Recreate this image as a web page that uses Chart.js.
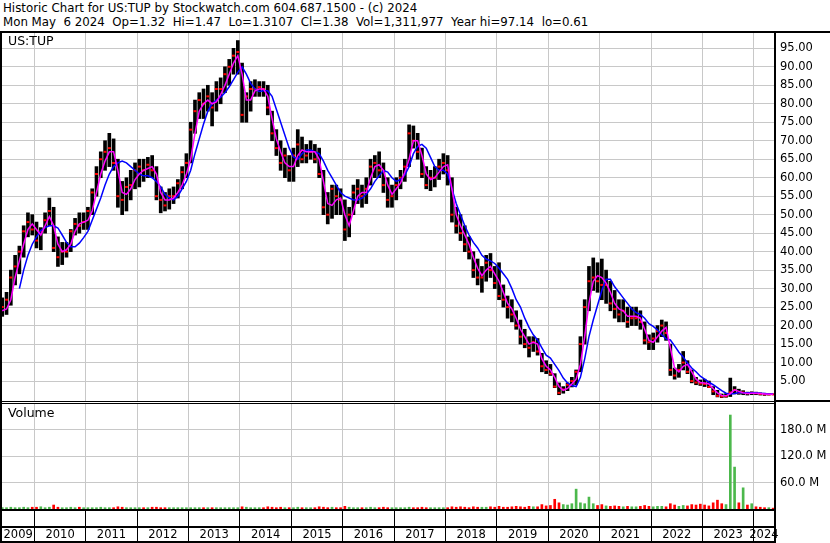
<!DOCTYPE html>
<html>
<head>
<meta charset="utf-8">
<script src="https://cdn.jsdelivr.net/npm/chart.js@4/dist/chart.umd.min.js"></script>
<style>
  html, body { margin: 0; padding: 0; background: #fff; }
  body { width: 830px; height: 543px; position: relative; overflow: hidden;
         font-family: 'DejaVu Sans', Verdana, sans-serif; color: #000; }
  .txt { position: absolute; white-space: pre; color: #000; }
  .hdr { font-size: 11.8px; line-height: 13.5px; }
  .lbl { font-size: 12.5px; line-height: 14px; z-index: 6; }
  .ln { position: absolute; background: #000; z-index: 5; }
  canvas { position: absolute; left: 0; }
</style>
</head>
<body>
<div class="txt hdr" style="left:3px;top:2px">Historic Chart for US:TUP by Stockwatch.com 604.687.1500 - (c) 2024</div>
<div class="txt hdr" style="left:3px;top:16px">Mon May  6 2024  Op=1.32  Hi=1.47  Lo=1.3107  Cl=1.38  Vol=1,311,977  Year hi=97.14  lo=0.61</div>

<canvas id="price" width="830" height="368" style="top:33px"></canvas>
<canvas id="vol" width="830" height="139" style="top:404px"></canvas>

<div class="txt lbl" style="left:8px;top:34px">US:TUP</div>
<div class="txt lbl" style="left:8px;top:406px">Volume</div>

<div class="ln" style="left:0;top:31px;width:830px;height:2px"></div>
<div class="ln" style="left:0;top:31px;width:2px;height:512px"></div>
<div class="ln" style="left:774px;top:31px;width:2px;height:512px"></div>
<div class="ln" style="left:0;top:401px;width:774px;height:1px"></div>
<div class="ln" style="left:0;top:403px;width:774px;height:1px"></div>
<div class="ln" style="left:776px;top:400px;width:54px;height:2px"></div>
<div class="ln" style="left:0;top:509px;width:774px;height:2px"></div>
<div class="ln" style="left:0;top:526px;width:774px;height:2px"></div>
<div class="ln" style="left:0;top:541px;width:776px;height:2px"></div>

<script>
// ---- Data (monthly, May 2009 .. May 2024) ----
const firstYear = 2009;
const firstMonth = 5; // May

const yearLabels = ['2009','2010','2011','2012','2013','2014','2015','2016','2017','2018','2019','2020','2021','2022','2023','2024'];
const priceTicks = [5,10,15,20,25,30,35,40,45,50,55,60,65,70,75,80,85,90,95];
const volumeTicks = [60,120,180];

const high = [
  27.5,29,35,39,41.5,47,50.5,50,
  48,46.5,50.5,54.5,52,44,42.5,42.5,46,49,50.5,50.5,
  52,57,63,67,70,72,70.5,65,59,60,62,64,
  65,65,65.5,66,63,57.5,56,57,57.5,59.5,63,66.5,
  75,81,83,84,85,83,86,87,90,92,95,97.1,
  91,83,86,86.5,86,86,85,78,73,70,68,66,
  68,73,71,69,70,69,68,62,56,58,58,57,
  54,52,58,59.5,58,60,65,66,67,64,60,58,
  60,62,65,74.3,74,72,68,63,62,63,65,66.5,
  66,60,52,50,47,44,40,38,36,39,39.5,36,
  37,31,28,27,24,21.5,19,17,17,16.5,12.5,10.5,
  9.5,7,4.5,3.5,4.5,6,8,17,27,36,38.3,37,
  38,35,32,29.5,27,27,25,25,25,24,21,17.5,
  18,20,21.5,21,15,8.5,9.5,13,10.5,8,6,5.3,
  5.5,5,3.5,2.5,1.5,1.6,5.8,3.5,2.8,2.4,2,2.1,
  2,1.8,1.7,1.6,1.5
];
const low = [
  22.5,23,25.5,31,34,38.5,44,44.5,
  41,40.5,45,47,40,36,36.5,38.5,40,44.5,45,46,
  46,50,55,60,62,63,62,52,50,51,54,57,
  57.5,59,60,60,54,50.5,51,51.5,53,54.5,57,60,
  64,72,76,76,78,74,78,80,83,85,88,88,
  75,75,78,82,82,82,77,70,66,62,60,59,
  59,63,64,64,65,64,60,50,47.5,49,50,50,
  43,44,50,53,52,53,58,60,60,56,52,52,
  54,57,59,63,68,65,60,57,56.5,57.5,59.5,61,
  58,48,45,43,40,38,33,31,29,32,33,30,
  27,25,22,21,19,15,14,11.5,13,12,7.5,7,
  6.5,3.2,1.3,1.7,2.4,3.4,4,7.5,15,24,29.5,29,
  27,26,24,22,21,21,19.5,20,20,19,15,13.5,
  13.5,15.5,17,16,6.5,5.5,6,8,7,4.5,4,3.8,
  3.5,3.2,1.3,0.7,0.5,0.6,0.8,1.5,1.4,1.3,1.2,1.3,
  1.3,1.2,1.1,1.2,1.3
];
const close = [
  25,27,33,36,40,45.5,48,46,
  43,45.5,48.5,51,41,38.5,40,40,45.5,47.5,47,48,
  51,56,61,65,67,68,64,55,54,57.5,58,62,
  63,62,63.5,62,55,54,52.5,55,55,58.5,61.5,64,
  73,78,81,80,82,79,84,84,88,90,93,94,
  77,82,84,84,84.5,84,79,72,68,64,66,62,
  66,69,65,66,67,65,61,52,50,57,55,54,
  46,50,56,57,55,57,63,64,62,58,54,55,
  58,60,63,72,70,67,61,58,60,60,63,64,
  62,50,47,45,42,40,35,33,33,37,35,31.5,
  28,27,25,23,20,17,15,14,15.5,13,9,8,
  7,3.5,1.8,2.7,4,5,7.5,15,25,32,33,32,
  31,31,26,24.5,23,24,21,22,22,21,16,15.5,
  16.5,18.5,20,18,8,6.5,8,10,7.5,5,4.6,4.3,
  4.2,3.4,2.2,1,0.8,0.9,1.9,2.6,1.8,1.9,1.7,1.8,
  1.7,1.5,1.4,1.4,1.38
];
const fastMA = [
  24,24.5,27,33,37.5,42,46,47.5,
  46,44.5,47,49.5,47,42,40,40.5,42,45.5,47.5,48,
  48.5,51,56,61,64.5,67,67,62,56,55.5,57,59.5,
  61,62,62.5,63,61,56,54,54,54.5,56,58,61,
  65,72,78,80,81,80,80.5,82.5,85,88,91,93,
  88,81,81,83.5,84,84,82,76,70.5,67,64,63,
  63,66,67.5,67,67,67,65,59,53,52.5,54,54.5,
  50,47,51,55,56,56,60,63,63.5,62,58,55.5,
  57,58.5,61.5,65,70,70,66,61,59.5,60,61.5,63,
  63.5,57,50,47,44.5,42,38.5,35.5,33.5,35,36,34,
  32,29,26,24.5,22,19,17,15,15.5,15,11,9,
  8,6,3.5,2.5,3,4.2,5.5,9.5,17,26,32,33.5,
  33,31.5,29,26,24.5,24,22.5,22.5,22.5,22,19,16,
  15.5,17,18.5,19.5,14,8.5,7.5,9,9.5,7.5,5.5,4.6,
  4.5,4.2,3,1.8,1.1,1,1.6,2.6,2.2,1.8,1.6,1.7,
  1.7,1.6,1.5,1.4,1.4
];
const slowMA = [
  null,null,null,null,30,35,39,42,
  44,45.7,46.5,47,47,46.4,44.5,42.5,41.3,41.3,42.3,43.8,
  45.5,48.5,51.5,54.5,58,61,63,64,64.5,64,63,62,
  61,60.5,60.5,60,59,57.5,55.5,54.5,54,55,57,59,
  62,66.5,70.5,74.5,78,80,81,81.8,83,84.6,86.5,88.5,
  90,88,85.5,84,83.3,83.5,83.5,82,78.5,75,71.5,68,
  65.6,65,66.5,67.5,67.5,67,66.5,64.5,62,60,58,56,
  55,54.5,54,54,54.5,55.5,57,59,60.5,62,61.5,60,
  59,59.5,60.7,63,66.5,68.5,69,68,65.5,63,62,62,
  61,57,53,50,47,44.5,42.5,41,39,38,37.5,36.8,
  35.5,34,32.5,30,27,25,22,19.5,17.5,16.1,14,12,
  11.2,9.5,7.8,5.8,4.5,3.8,3.5,6,11,17,21.5,25.5,
  29.5,32.5,32.5,30.5,29,27.5,26,24.5,23.5,23,22,20.5,
  19.8,18.8,17.5,16.4,16.1,14.5,12.8,11.5,9.9,8.5,7.5,6.3,
  5.5,4.7,4,3.2,2.4,1.7,1.5,1.6,1.8,1.8,1.8,1.8,
  1.8,1.7,1.6,1.5,1.5
];
// volume in millions of shares
const volume = [
  3,3,4,3,3,4,3,4,
  4,5,3,4,9,4,3,3,4,3,4,3,
  3,3,3,4,3,3,3,5,4,3,3,3,
  3,3,3,4,4,3,3,3,3,3,3,3,
  3,3,3,3,3,3,3,3,3,3,3,3,
  5,4,3,3,3,3,5,4,3,4,3,3,
  3,4,3,3,3,3,5,4,3,4,3,3,
  6,4,3,3,3,3,4,3,3,4,3,3,
  3,3,3,4,3,3,4,3,3,3,3,3,
  3,5,4,5,4,3,5,4,4,4,5,4,
  6,4,4,5,6,5,4,6,5,5,10,7,
  8,22,14,10,9,12,45,14,12,27,12,8,
  10,7,6,7,6,5,6,5,5,6,8,6,
  5,6,6,5,12,9,6,8,7,10,9,11,
  9,7,14,20,12,10,213,95,14,48,9,12,
  5,4,3,3,2
];

// ---- Build chart inputs ----
const xMin = 2009.37, xMax = 2024.392;
const monthT = high.map((_, i) => {
  const m = firstMonth - 1 + i;
  return firstYear + Math.floor(m / 12) + ((m % 12) + 0.5) / 12;
});
const yearBounds = yearLabels.slice(1).map(Number);
const yearCenters = yearLabels.map(Number).map(y => (Math.max(y, xMin) + Math.min(y + 1, xMax)) / 2);

Chart.defaults.font.family = "'DejaVu Sans', Verdana, sans-serif";
Chart.defaults.font.size = 11.5;
Chart.defaults.color = '#000';

const GRID = '#c8c8c8';
const baseOpts = {
  responsive: false, animation: false, devicePixelRatio: 1,
  layout: { autoPadding: false, padding: { left: 2, right: 0, top: 0, bottom: 0 } },
  plugins: { legend: { display: false }, tooltip: { enabled: false } },
  events: []
};

new Chart(document.getElementById('price'), {
  type: 'bar',
  data: {
    datasets: [
      { type: 'line', data: monthT.map((t, i) => ({ x: t, y: fastMA[i] })),
        borderColor: '#ff00ff', borderWidth: 1.5, pointRadius: 0, tension: 0, order: 1 },
      { type: 'line', data: monthT.map((t, i) => ({ x: t, y: slowMA[i] })),
        borderColor: '#0000ff', borderWidth: 1.5, pointRadius: 0, tension: 0, spanGaps: false, order: 2 },
      { type: 'line', data: monthT.map((t, i) => ({ x: t, y: close[i] })),
        showLine: false, pointStyle: 'line', pointRadius: 1.5, pointBorderColor: '#ff0000',
        pointBorderWidth: 2, pointBackgroundColor: '#ff0000', order: 3 },
      { type: 'bar', data: monthT.map((t, i) => ({ x: t, y: [low[i], high[i]] })),
        backgroundColor: '#000', borderWidth: 0, barThickness: 3, order: 4 }
    ]
  },
  options: Object.assign({}, baseOpts, {
    scales: {
      x: {
        type: 'linear', min: xMin, max: xMax, offset: false,
        afterBuildTicks: s => { s.ticks = yearBounds.map(v => ({ value: v })); },
        ticks: { display: false },
        grid: { color: GRID, drawTicks: false, offset: false },
        border: { display: false },
        afterFit: s => { s.height = 0; s.paddingLeft = 0; s.paddingRight = 0; }
      },
      y: {
        position: 'right', min: -0.4, max: 99.14,
        afterBuildTicks: s => { s.ticks = priceTicks.map(v => ({ value: v })); },
        ticks: { padding: 6, color: '#000', callback: v => Number(v).toFixed(2) },
        grid: { color: GRID, drawTicks: false },
        border: { display: false },
        afterFit: s => { s.width = 56; s.paddingTop = 0; s.paddingBottom = 0; }
      }
    }
  })
});

const volColors = volume.map((v, i) => (i === 0 || close[i] >= close[i - 1]) ? '#4cb84c' : '#ff0000');

new Chart(document.getElementById('vol'), {
  type: 'bar',
  data: {
    datasets: [
      { data: monthT.map((t, i) => ({ x: t, y: volume[i] })),
        backgroundColor: volColors, borderWidth: 0, barThickness: 2 }
    ]
  },
  options: Object.assign({}, baseOpts, {
    scales: {
      x: {
        type: 'linear', min: xMin, max: xMax, offset: false,
        afterBuildTicks: s => {
          s.ticks = yearBounds.concat(yearCenters).sort((a, b) => a - b).map(v => ({ value: v }));
        },
        ticks: {
          autoSkip: false, maxRotation: 0, minRotation: 0, padding: -13, color: '#000',
          callback: v => yearBounds.includes(v) ? '' : yearLabels[Math.floor(v) - firstYear]
        },
        grid: {
          offset: false, drawTicks: true, tickLength: 32,
          color: c => (c.tick && yearBounds.includes(c.tick.value)) ? GRID : 'rgba(0,0,0,0)',
          tickColor: c => (c.tick && yearBounds.includes(c.tick.value)) ? '#000' : 'rgba(0,0,0,0)'
        },
        border: { display: false },
        afterFit: s => { s.height = 34; s.paddingLeft = 0; s.paddingRight = 0; }
      },
      y: {
        position: 'right', min: 0, max: 238,
        afterBuildTicks: s => { s.ticks = volumeTicks.map(v => ({ value: v })); },
        ticks: { padding: 6, color: '#000', callback: v => Number(v).toFixed(1) + ' M' },
        grid: { color: GRID, drawTicks: false },
        border: { display: false },
        afterFit: s => { s.width = 56; s.paddingTop = 0; s.paddingBottom = 0; }
      }
    }
  })
});
</script>
</body>
</html>
